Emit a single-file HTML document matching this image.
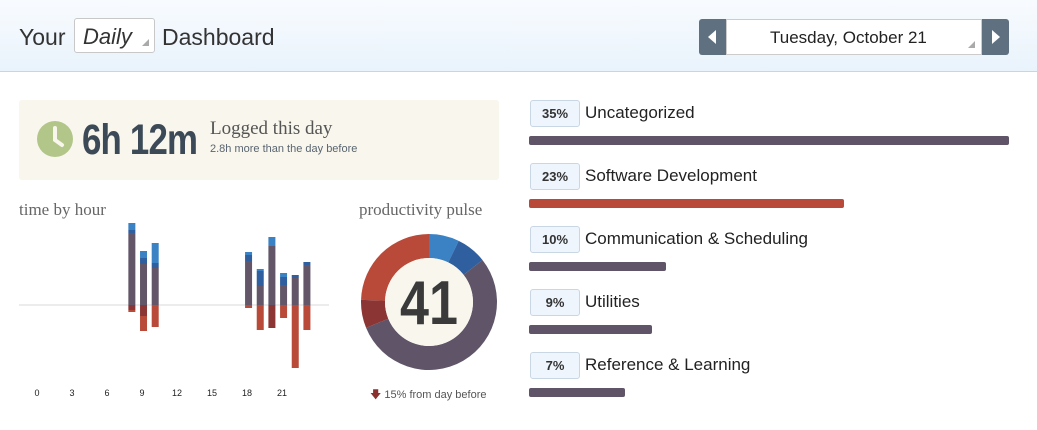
<!DOCTYPE html>
<html><head><meta charset="utf-8">
<style>
*{box-sizing:border-box;margin:0;padding:0}
body{width:1037px;height:430px;overflow:hidden;background:#fff;font-family:"Liberation Sans",sans-serif;color:#333;position:relative}
.hdr{position:absolute;left:0;top:0;width:1037px;height:72px;background:linear-gradient(#f8fbfe,#e9f3fc);border-bottom:1px solid #cbd5de}
.abs{position:absolute}
.serif{font-family:"Liberation Serif",serif}
</style></head><body>
<div class="hdr">
  <div class="abs" style="left:19px;top:24px;font-size:23px;color:#333">Your</div>
  <div class="abs" style="left:74px;top:18px;width:81px;height:35px;border:1px solid #c8c8c8;border-radius:3px;background:#fff">
    <span class="abs" style="left:8px;top:5px;font-size:22px;font-style:italic">Daily</span>
    <span class="abs" style="right:5px;bottom:6px;width:0;height:0;border-left:7px solid transparent;border-bottom:7px solid #aaa"></span>
  </div>
  <div class="abs" style="left:162px;top:24px;font-size:23px">Dashboard</div>
  <div class="abs" style="left:699px;top:19px;width:28px;height:36px;background:#5f7180;border-radius:3px 0 0 3px">
    <span class="abs" style="left:9px;top:11px;border-top:7px solid transparent;border-bottom:7px solid transparent;border-right:8px solid #fff"></span></div>
  <div class="abs" style="left:726px;top:19px;width:256px;height:36px;background:#fff;border:1px solid #ccc">
    <span class="abs" style="left:43px;top:8px;font-size:17px;color:#222">Tuesday, October 21</span>
    <span class="abs" style="right:6px;bottom:6px;border-left:7px solid transparent;border-bottom:7px solid #aaa"></span></div>
  <div class="abs" style="left:982px;top:19px;width:27px;height:36px;background:#5f7180;border-radius:0 3px 3px 0">
    <span class="abs" style="left:10px;top:11px;border-top:7px solid transparent;border-bottom:7px solid transparent;border-left:8px solid #fff"></span></div>
</div>

<div class="abs" style="left:19px;top:100px;width:480px;height:80px;background:#f8f6ed;border-radius:3px">
  <svg class="abs" style="left:18px;top:21px" width="38" height="36"><circle cx="18" cy="18" r="18" fill="#b2c68a"/><path d="M18 7 V19 L25 24" stroke="#f8f6ed" stroke-width="4" fill="none" stroke-linecap="round"/></svg>
  <div class="abs" style="left:63px;top:16px;font-size:43px;font-weight:bold;color:#3c4a57;transform:scaleX(0.81);transform-origin:left;letter-spacing:-1px">6h 12m</div>
  <div class="abs serif" style="left:191px;top:18px;font-size:19px;color:#555">Logged this day</div>
  <div class="abs" style="left:191px;top:43px;font-size:11px;color:#5a6570">2.8h more than the day before</div>
</div>

<div class="abs serif" style="left:19px;top:200px;font-size:17px;color:#666">time by hour</div>
<div class="abs serif" style="left:359px;top:200px;font-size:17px;color:#666">productivity pulse</div>
<svg class="abs" style="left:0;top:0" width="520" height="430" id="charts"></svg>
<div class="abs" style="left:370px;top:386px;font-size:11px;color:#555"><span style="color:#8b2f2f">&#129095;</span> 15% from day before</div>

<div id="cats"></div>

<script>
const hours=[8,9,10,18,19,20,21,22,23];
const neutral=[72,41,37,44,19,59,20,27,40];
const prodDark=[3,6,5,6,15,0,8,3,3];
const prodLight=[7,7,20,3,2,9,4,0,0];
const unprodDark=[5,11,0,0,0,23,0,0,0];
const unprodLight=[2,15,22,3,25,0,13,63,25];
const hourTicks=[0,3,6,9,12,15,18,21];
const pulseShares=[7.2,7.2,54.4,6.7,24.5];
const pulseColors=["#3a82c4","#2f5f9e","#5f5468","#8b3535","#b94a39"];
const pulseScore=41;
const catNames=["Uncategorized","Software Development","Communication & Scheduling","Utilities","Reference & Learning"];
const catPct=[35,23,10,9,7];
const catColors=["#5f5468","#b94a39","#5f5468","#5f5468","#5f5468"];

const NS="http://www.w3.org/2000/svg";
const svg=document.getElementById('charts');
function mk(t,a){const e=document.createElementNS(NS,t);for(const k in a)e.setAttribute(k,a[k]);svg.appendChild(e);return e;}
const xH=h=>37+h*11.67-2;
const y0=305, yS=v=>v*1;
const axis=mk('line',{x1:19,x2:329,y1:y0,y2:y0,stroke:'#d8d8d8','stroke-width':1});


hourTicks.forEach(h=>{const t=mk('text',{x:37+h*11.67,y:396,'font-size':9,'text-anchor':'middle',fill:'#222','font-family':'Liberation Sans'});t.textContent=h;

});
hours.forEach((h,i)=>{
  let y=y0;
  [[neutral[i],'#625668'],[prodDark[i],'#2f5f9e'],[prodLight[i],'#3a82c4']].forEach(([v,c])=>{if(!v)return;y-=yS(v);const r=mk('rect',{x:xH(h),y:y,width:7,height:yS(v),fill:c});
    
    });
  y=y0;
  [[unprodDark[i],'#8b3535'],[unprodLight[i],'#b94a39']].forEach(([v,c])=>{if(!v)return;const r=mk('rect',{x:xH(h),y:y,width:7,height:yS(v),fill:c});y+=yS(v);
    
    });
});
// donut
const cx=429,cy=302,R=68,r=44;
let a0=0;const tot=pulseShares.reduce((a,b)=>a+b,0);
function pt(a,rr){const t=(a-90)*Math.PI/180;return [cx+rr*Math.cos(t),cy+rr*Math.sin(t)];}
pulseShares.forEach((s,i)=>{const a1=a0+s/tot*360;const L=(a1-a0)>180?1:0;
  const [x1,y1]=pt(a0,R),[x2,y2]=pt(a1,R),[x3,y3]=pt(a1,r),[x4,y4]=pt(a0,r);
  const p=mk('path',{d:`M${x1},${y1}A${R},${R} 0 ${L} 1 ${x2},${y2}L${x3},${y3}A${r},${r} 0 ${L} 0 ${x4},${y4}Z`,fill:pulseColors[i]});
  
  
  a0=a1;});
const inner=mk('circle',{cx:cx,cy:cy,r:r,fill:'#f8f6ed'});


const sc=mk('text',{x:cx,y:cy+22,'font-size':62,'font-weight':'bold','text-anchor':'middle',fill:'#3a3a3a','font-family':'Liberation Sans',transform:`translate(${cx*0.16},0) scale(0.84,1)`});
sc.textContent=pulseScore;


// categories
const cats=document.getElementById('cats');
catNames.forEach((n,i)=>{
  const top=100+i*63;
  const b=document.createElement('div');b.className='abs';
  b.style.cssText=`left:530px;top:${top}px;width:50px;height:27px;background:#eef5fc;border:1px solid #c9d7e4;border-radius:3px;font-size:13px;font-weight:bold;text-align:center;line-height:25px;color:#333`;
  b.textContent=catPct[i]+'%';
  
  
  cats.appendChild(b);
  const l=document.createElement('div');l.className='abs';
  l.style.cssText=`left:585px;top:${top+3}px;font-size:17px;color:#222`;
  l.textContent=n;
  
  
  cats.appendChild(l);
  const bar=document.createElement('div');bar.className='abs';
  bar.style.cssText=`left:529px;top:${top+36}px;height:9px;border-radius:2px;background:${catColors[i]};width:${catPct[i]/35*480}px`;
  
  
  cats.appendChild(bar);
});
</script>
</body></html>
